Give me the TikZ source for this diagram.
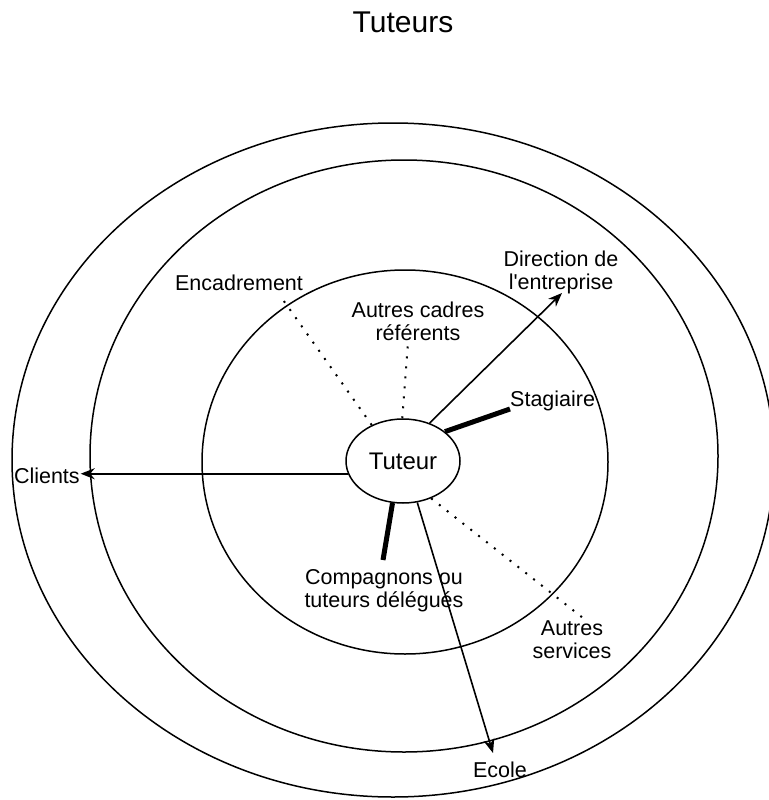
\documentclass[tikz,border=0pt]{standalone}
\usepackage{fontspec}
\setmainfont{Liberation Sans}[Ligatures=TeXOff]
\usetikzlibrary{arrows.meta,shapes.geometric}
\begin{document}
\begin{tikzpicture}[x=1pt,y=-1pt,
  ring/.style={draw, line width=1.5pt},
  lbl/.style={font=\fontsize{21.5}{23}\selectfont, inner sep=0pt, align=center, anchor=base},
  link/.style={line width=1.6pt},
  arrowlink/.style={link, -{Stealth[length=14pt,width=11pt]}},
  strong/.style={line width=5pt},
  weak/.style={line width=2pt, dash pattern=on 2pt off 8pt},
]
\fill[white] (0,0) rectangle (768,800);
\useasboundingbox (0,0) rectangle (768,800);

% concentric circles of the tutor's environment
\draw[ring] (393,460) ellipse [x radius=381, y radius=337];
\draw[ring] (404,456) ellipse [x radius=314, y radius=296];
\draw[ring] (405,462) ellipse [x radius=203, y radius=192];

% title
\node[anchor=base, inner sep=0pt, font=\fontsize{30}{34}\selectfont] (title) at (403,33) {Tuteurs};

% central actor
\node[draw, line width=1.5pt, ellipse, minimum width=114pt, minimum height=84pt, inner sep=0pt,
      font=\fontsize{24}{28}\selectfont, fill=white] (tut) at (403,461) {Tuteur};

% labels (base = baseline of the last line)
\node[lbl] (encad) at (239,290) {Encadrement};
\node[lbl] (cadres) at (418,340) {Autres cadres\\référents};
\node[lbl] (dir) at (561,289) {Direction de\\l'entreprise};
\node[lbl, anchor=base west] (stag) at (510,406) {Stagiaire};
\node[lbl, anchor=base west, outer sep=1pt] (clients) at (13,483) {Clients};
\node[lbl] (comp) at (384,607) {Compagnons ou\\tuteurs délégués};
\node[lbl] (serv) at (572,658) {Autres\\services};
\node[lbl] (ecole) at (500,777) {Ecole};

% free ends of the connectors
\coordinate (dirtip) at (562,293);
\coordinate (ecoletip) at (493,753);
\coordinate (stagend) at (510,409);
\coordinate (compend) at (383,560);
\coordinate (encadend) at (281,297);
\coordinate (cadresend) at (408,342);
\coordinate (servend) at (583,618);

% connectors
\draw[arrowlink] (tut.193) -- (tut.193 -| clients.east);
\draw[arrowlink] (tut.55) -- (dirtip);
\draw[arrowlink] (tut.289) -- (ecoletip);
\draw[strong] (tut.35) -- (stagend);
\draw[strong] (tut.256) -- (compend);
\draw[weak] (tut.131) -- (encadend);
\draw[weak] (tut.91) -- (cadresend);
\draw[weak] (tut.307) -- (servend);
\end{tikzpicture}
\end{document}
